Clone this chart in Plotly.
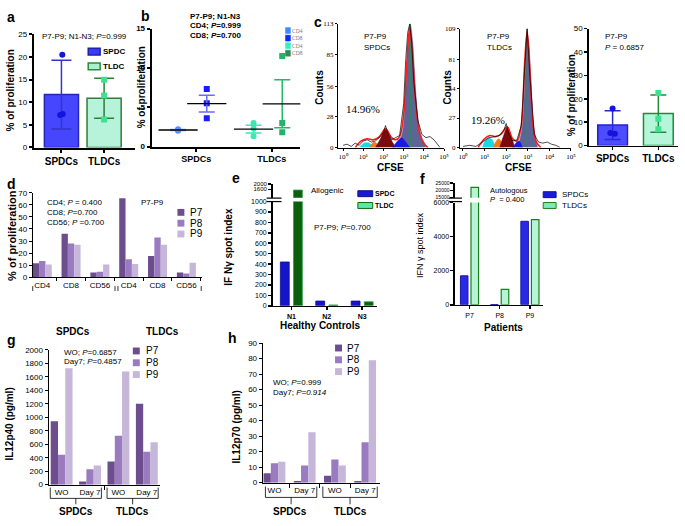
import numpy as np
import plotly.graph_objects as go

W, H = 685, 526
SANS = "Liberation Sans, Arial, Helvetica, sans-serif"
SERIF = "Liberation Serif, Times New Roman, serif"

# ---------------- data ----------------
# panel a
a_groups = ["SPDCs", "TLDCs"]
a_spdc_pts = [20.5, 7.2, 7.4]
a_tldc_pts = [15.0, 11.5, 6.2]
# panel b
b_groups = ["SPDCs", "TLDCs"]
b_spdc_cd4 = [2.1, 2.2, 2.0]
b_spdc_cd8 = [7.3, 5.5, 3.6]
b_tldc_cd4 = [3.0, 2.3, 1.3]
b_tldc_cd8 = [11.5, 3.0, 1.8]
# panel c (bar)
c_groups = ["SPDCs", "TLDCs"]
c_spdc_pts = [15.8, 5.4, 5.0]
c_tldc_pts = [22.5, 11.5, 7.0]
# panel c (CFSE histograms, x in log10 units)
cfse_tickvals = [0, 1, 2, 3, 4, 5]
cfse_ticktext = ["10\u2070", "10\u00b9", "10\u00b2", "10\u00b3", "10\u2074", "10\u2075"]
hist1_yticks = [0, 28, 56, 85, 113]
hist2_yticks = [0, 27, 54, 81, 109]
hist1_raw_x = [0.0, 0.2, 0.4, 0.6, 0.8, 1.0, 1.2, 1.4, 1.6, 1.8, 2.0, 2.1, 2.2, 2.4, 2.6, 2.8, 3.0, 3.1, 3.2, 3.3, 3.4, 3.5, 3.7, 3.9, 4.1, 4.3, 4.5, 4.7, 4.8]
hist1_raw_y = [2, 3, 1, 4, 2, 6, 7, 5, 6, 9, 14, 20, 14, 7, 9, 11, 40, 80, 105, 113, 95, 60, 25, 12, 9, 10, 7, 3, 0]
hist1_fit_x = [0.6, 0.9, 1.2, 1.5, 1.8, 2.1, 2.4, 2.6, 2.8, 3.0, 3.15, 3.3, 3.45, 3.6, 3.8, 4.0, 4.2]
hist1_fit_y = [0, 6, 8, 7, 10, 17, 9, 7, 10, 30, 75, 110, 80, 40, 12, 4, 0]
hist1_cyan_x = [0.8, 1.05, 1.3, 1.5]
hist1_cyan_y = [0, 4, 4, 0]
hist1_orange_x = [1.3, 1.55, 1.8]
hist1_orange_y = [0, 5, 0]
hist1_maroon_x = [1.6, 1.85, 2.1, 2.35, 2.6]
hist1_maroon_y = [0, 8, 17, 8, 0]
hist1_blue_x = [2.45, 2.7, 2.9, 3.1, 3.3]
hist1_blue_y = [0, 6, 9, 5, 0]
hist1_main_x = [2.7, 2.95, 3.1, 3.25, 3.33, 3.45, 3.6, 3.8, 4.1]
hist1_main_y = [0, 15, 50, 100, 112, 95, 50, 15, 0]
hist1_mode = 3.33
hist2_raw_x = [0.0, 0.3, 0.6, 0.9, 1.2, 1.5, 1.7, 1.9, 2.0, 2.1, 2.3, 2.5, 2.7, 2.85, 2.97, 3.1, 3.3, 3.5, 3.7, 3.9, 4.1, 4.3, 4.5]
hist2_raw_y = [1, 2, 1, 5, 9, 10, 11, 16, 22, 14, 6, 7, 20, 70, 109, 65, 12, 5, 4, 5, 3, 2, 0]
hist2_fit_x = [0.7, 1.0, 1.25, 1.5, 1.75, 2.05, 2.3, 2.5, 2.7, 2.85, 2.97, 3.1, 3.25, 3.4, 3.6]
hist2_fit_y = [0, 8, 11, 10, 12, 19, 8, 6, 20, 75, 106, 70, 20, 5, 0]
hist2_cyan_x = [0.9, 1.05, 1.2, 1.35, 1.5]
hist2_cyan_y = [0, 7, 9, 7, 0]
hist2_orange_x = [1.4, 1.65, 1.9]
hist2_orange_y = [0, 8, 0]
hist2_maroon_x = [1.7, 1.9, 2.05, 2.2, 2.4]
hist2_maroon_y = [0, 12, 19, 12, 0]
hist2_blue_x = [2.3, 2.5, 2.6, 2.75]
hist2_blue_y = [0, 5, 6, 0]
hist2_main_x = [2.55, 2.75, 2.88, 2.97, 3.05, 3.15, 3.3, 3.45]
hist2_main_y = [0, 20, 70, 105, 95, 60, 15, 0]
hist2_mode = 2.97
# panel d
d_cats = ["CD4", "CD8", "CD56", "CD4", "CD8", "CD56"]
d_p7 = [11.5, 36, 4, 65.5, 17.5, 4]
d_p8 = [13.5, 28, 4.5, 15, 33, 3]
d_p9 = [10.5, 27, 10.5, 11, 27, 12]
# panel e
e_cats = ["N1", "N2", "N3"]
e_spdc = [420, 45, 45]
e_tldc = [1550, 8, 38]
# panel f
f_cats = ["P7", "P8", "P9"]
f_spdc = [1700, 15, 4900]
f_tldc = [22000, 900, 5000]
# panel g
gh_cats = ["WO", "Day 7", "WO", "Day 7"]
gh_groups = ["SPDCs", "TLDCs"]
g_p7 = [940, 45, 345, 1200]
g_p8 = [445, 230, 725, 490]
g_p9 = [1730, 285, 1680, 630]
# panel h
h_p7 = [6, 1, 4.5, 1]
h_p8 = [12.5, 11, 15, 26]
h_p9 = [13.5, 32.5, 11, 79]

# ---------------- helpers ----------------
fig = go.Figure()
layout = dict(width=W, height=H, margin=dict(l=0, r=0, t=0, b=0),
              paper_bgcolor="white", plot_bgcolor="rgba(0,0,0,0)", showlegend=False,
              font=dict(family=SANS, color="black"), barmode="overlay", hovermode=False)
annotations = []
shapes = []


def ax(n):
    s = "" if n == 1 else str(n)
    return "x" + s, "y" + s


def add_axes(n, x0, x1, ytop, ybot, xr, yr, xkw=None, ykw=None, lw=1.5, fs=8, fam=SANS):
    s = "" if n == 1 else str(n)
    common = dict(showgrid=False, zeroline=False, showline=True, linecolor="black",
                  linewidth=lw, ticks="outside", ticklen=3, tickwidth=lw, tickcolor="black",
                  fixedrange=True, tickfont=dict(size=fs, family=fam, color="black"))
    xa = dict(common, domain=[x0 / W, x1 / W], range=xr, anchor="y" + s)
    ya = dict(common, domain=[1 - ybot / H, 1 - ytop / H], range=yr, anchor="x" + s)
    if xkw:
        xa.update(xkw)
    if ykw:
        ya.update(ykw)
    layout["xaxis" + s] = xa
    layout["yaxis" + s] = ya


def T(x, y, text, size=8, xa="left", ya="middle", angle=0, family=SANS, color="black"):
    annotations.append(dict(x=x / W, y=1 - y / H, xref="paper", yref="paper", text=text,
                            showarrow=False, xanchor=xa, yanchor=ya, textangle=angle,
                            font=dict(size=size, family=family, color=color), borderpad=0))


def TD(n, x, y, text, size=10):
    xr_, _ = ax(n)
    annotations.append(dict(x=x, y=1 - y / H, xref=xr_, yref="paper", text=text, showarrow=False,
                            xanchor="center", yanchor="middle", font=dict(size=size, family=SANS),
                            borderpad=0))


def RECT(x0, y0, x1, y1, fill, line, lw=1):
    shapes.append(dict(type="rect", xref="paper", yref="paper", x0=x0 / W, x1=x1 / W,
                       y0=1 - y1 / H, y1=1 - y0 / H, fillcolor=fill,
                       line=dict(color=line, width=lw)))


def LINE(x0, y0, x1, y1, color="black", lw=1):
    shapes.append(dict(type="line", xref="paper", yref="paper", x0=x0 / W, x1=x1 / W,
                       y0=1 - y0 / H, y1=1 - y1 / H, line=dict(color=color, width=lw)))


def BRACKET(n, xa_, xb_, ytop, ymid, ybot):
    xr_, _ = ax(n)
    yt, ym, yb = 1 - ytop / H, 1 - ymid / H, 1 - ybot / H
    xc = (xa_ + xb_) / 2
    shapes.append(dict(type="path", xref=xr_, yref="paper",
                       path=f"M {xa_},{yt} L {xa_},{ym} L {xb_},{ym} L {xb_},{yt} M {xc},{ym} L {xc},{yb}",
                       line=dict(color="black", width=0.8)))


def errbars(n, xs, means, errs, color, width, thick=1.5):
    xr_, yr_ = ax(n)
    fig.add_trace(go.Scatter(x=xs, y=means, mode="markers", xaxis=xr_, yaxis=yr_,
                             marker=dict(size=1, color="rgba(0,0,0,0)"),
                             error_y=dict(type="data", array=errs, color=color,
                                          thickness=thick, width=width)))


# ---------------- panel a ----------------
add_axes(1, 33, 135, 31, 146, [-0.65, 1.72], [0, 25],
         xkw=dict(tickvals=[0, 1], ticktext=[f"<b>{g}</b>" for g in a_groups],
                  tickfont=dict(size=10, family=SANS)),
         ykw=dict(tickvals=[0, 5, 10, 15, 20, 25]), lw=2)
a_means = [np.mean(a_spdc_pts), np.mean(a_tldc_pts)]
a_sd = [np.std(a_spdc_pts, ddof=1), np.std(a_tldc_pts, ddof=1)]
fig.add_trace(go.Bar(x=[0, 1], y=a_means, width=0.8, xaxis="x", yaxis="y",
                     marker=dict(color=["#4646ff", "#b6f3da"],
                                 line=dict(color=["#2626b8", "#2f7f35"], width=1.5))))
errbars(1, [0], [a_means[0]], [a_sd[0]], "#3535c8", 10)
errbars(1, [1], [a_means[1]], [a_sd[1]], "#2f7f35", 10)
fig.add_trace(go.Scatter(x=[0.02, -0.03, 0.03], y=a_spdc_pts, mode="markers", xaxis="x", yaxis="y",
                         marker=dict(size=6, color="#1414e0")))
fig.add_trace(go.Scatter(x=[1.0, 1.0, 1.0], y=a_tldc_pts, mode="markers", xaxis="x", yaxis="y",
                         marker=dict(size=6, symbol="square", color="#3fe08f")))
T(10, 88, "<b>% of proliferation</b>", 10, "center", angle=-90)
T(40, 33, "P7-P9; N1-N3; <i>P</i>=0.999", 8)
RECT(88, 45, 100, 52, "#3a3aff", "#2020aa", 1.5)
T(102, 48.5, "<b>SPDC</b>", 8)
RECT(88, 60, 100, 67, "#a8f0d0", "#2a8a3a", 1.5)
T(102, 63.5, "<b>TLDC</b>", 8)
T(5, 13, "<b>a</b>", 14)

# ---------------- panel b ----------------
add_axes(2, 152, 302, 25, 145, [-0.59, 1.38], [0, 15],
         xkw=dict(tickvals=[0, 1], ticktext=[f"<b>{g}</b>" for g in b_groups],
                  tickfont=dict(size=9, family=SANS)),
         ykw=dict(tickvals=[0, 5, 10, 15], ticktext=["<b>0</b>", "<b>5</b>", "<b>10</b>", "<b>15</b>"]), lw=2)
b_off4, b_off8 = -0.24, 0.14
b_sets = [(0 + b_off4, b_spdc_cd4, "#5a8cff", "#6f9cff", "circle"),
          (0 + b_off8, b_spdc_cd8, "#1a1aff", "#6a6aff", "square"),
          (1 + b_off4, b_tldc_cd4, "#3ae8b4", "#3ae8b4", "circle"),
          (1 + b_off8, b_tldc_cd8, "#1fb46a", "#22b86e", "square")]
for xpos, vals, col, ecol, sym in b_sets:
    m = float(np.mean(vals))
    sem = float(np.std(vals, ddof=1) / np.sqrt(len(vals)))
    fig.add_trace(go.Scatter(x=[xpos] * len(vals), y=vals, mode="markers", xaxis="x2", yaxis="y2",
                             marker=dict(size=6, color=col, symbol=sym)))
    errbars(2, [xpos], [m], [sem], ecol, 8)
    fig.add_trace(go.Scatter(x=[xpos], y=[m], mode="markers", xaxis="x2", yaxis="y2",
                             marker=dict(symbol="line-ew", size=28, line=dict(color="black", width=1.3))))
T(142, 85, "<b>% of proliferation</b>", 10, "center", angle=-90)
T(190, 13, "<b>P7-P9; N1-N3</b>", 8)
T(190, 22, "<b>CD4; <i>P</i>=0.999</b>", 8)
T(190, 32, "<b>CD8; <i>P</i>=0.700</b>", 8)
for i, (lab, col) in enumerate([("CD4", "#3d8bff"), ("CD8", "#0a2aff"), ("CD4", "#33f0c0"), ("CD8", "#2e8b57")]):
    yy = 27 + i * 7.7
    RECT(287, yy - 3, 292, yy + 3, col, col, 0.5)
    T(293, yy, lab, 5.5, family=SERIF, color="#777777")
T(140, 12, "<b>b</b>", 14)

# ---------------- panel c histograms ----------------
for n, x0, x1, ytop, xr, yticks, rx, ry, fx, fy, peaks, mode, ylab_x in [
    (3, 340, 447, 20, [-0.25, 5], hist1_yticks, hist1_raw_x, hist1_raw_y, hist1_fit_x, hist1_fit_y,
     [(hist1_main_x, hist1_main_y, "#5d6598"), (hist1_cyan_x, hist1_cyan_y, "#1fd6e6"),
      (hist1_orange_x, hist1_orange_y, "#f07d1a"), (hist1_maroon_x, hist1_maroon_y, "#7d0a0a"),
      (hist1_blue_x, hist1_blue_y, "#1a1ae6")], hist1_mode, 321),
    (4, 463, 575, 25, [-0.14, 5], hist2_yticks, hist2_raw_x, hist2_raw_y, hist2_fit_x, hist2_fit_y,
     [(hist2_main_x, hist2_main_y, "#5d6598"), (hist2_cyan_x, hist2_cyan_y, "#1fd6e6"),
      (hist2_orange_x, hist2_orange_y, "#f07d1a"), (hist2_maroon_x, hist2_maroon_y, "#7d0a0a"),
      (hist2_blue_x, hist2_blue_y, "#1a1ae6")], hist2_mode, 450)]:
    add_axes(n, x0, x1, ytop, 146, xr, [0, yticks[-1]],
             xkw=dict(tickvals=cfse_tickvals, ticktext=cfse_ticktext, ticklen=2),
             ykw=dict(tickvals=yticks, ticklen=2), lw=1, fs=7, fam=SERIF)
    xr_, yr_ = ax(n)
    for px_, py_, col in peaks:
        fig.add_trace(go.Scatter(x=px_, y=py_, mode="lines", fill="toself", fillcolor=col,
                                 line=dict(color=col, width=0.5, shape="spline"), xaxis=xr_, yaxis=yr_))
    fig.add_trace(go.Scatter(x=[mode, mode], y=[0, yticks[-1]], mode="lines", xaxis=xr_, yaxis=yr_,
                             line=dict(color="#2e8b57", width=1)))
    fig.add_trace(go.Scatter(x=fx, y=fy, mode="lines", xaxis=xr_, yaxis=yr_,
                             line=dict(color="#ff1a1a", width=1.6, shape="spline")))
    fig.add_trace(go.Scatter(x=rx, y=ry, mode="lines", xaxis=xr_, yaxis=yr_,
                             line=dict(color="black", width=0.7)))
    T(ylab_x, 85, "<b>Counts</b>", 10, "center", angle=-90)
T(365, 33, "P7-P9", 8)
T(365, 44, "SPDCs", 8)
T(347, 107, "14.96%", 11, family=SERIF)
T(393, 166, "<b>CFSE</b>", 10, "center")
T(489, 33, "P7-P9", 8)
T(489, 44, "TLDCs", 8)
T(473, 118, "19.26%", 11, family=SERIF)
T(522, 166, "<b>CFSE</b>", 10, "center")
T(315, 18, "<b>c</b>", 14)

# ---------------- panel c bar ----------------
add_axes(5, 593, 683, 25, 144, [-0.52, 1.43], [0, 50],
         xkw=dict(tickvals=[0, 1], ticktext=[f"<b>{g}</b>" for g in c_groups],
                  tickfont=dict(size=10, family=SANS)),
         ykw=dict(tickvals=[0, 10, 20, 30, 40, 50]), lw=1.5)
c_means = [np.mean(c_spdc_pts), np.mean(c_tldc_pts)]
c_sd = [np.std(c_spdc_pts, ddof=1), np.std(c_tldc_pts, ddof=1)]
fig.add_trace(go.Bar(x=[0, 1], y=c_means, width=0.65, xaxis="x5", yaxis="y5",
                     marker=dict(color=["#4d4dff", "#b5f5da"],
                                 line=dict(color=["#2222cc", "#1e8c3a"], width=1.5))))
errbars(5, [0], [c_means[0]], [c_sd[0]], "#2a2ad0", 8)
errbars(5, [1], [c_means[1]], [c_sd[1]], "#1e8c3a", 8)
fig.add_trace(go.Scatter(x=[0.0, -0.05, 0.05], y=c_spdc_pts, mode="markers", xaxis="x5", yaxis="y5",
                         marker=dict(size=6, color="#1414e0")))
fig.add_trace(go.Scatter(x=[1.0, 1.0, 1.0], y=c_tldc_pts, mode="markers", xaxis="x5", yaxis="y5",
                         marker=dict(size=6, symbol="square", color="#3fe08f")))
T(575, 93, "<b>% of proliferation</b>", 10, "center", angle=-90)
T(608, 33, "P7-P9", 8)
T(608, 44, "<i>P</i> = 0.6857", 8)

# ---------------- panel d ----------------
P7C, P8C, P9C = "#6c4e8e", "#9a7bbf", "#c5b6da"
add_axes(6, 32, 203, 192, 278, [-0.33, 5.55], [0, 70],
         xkw=dict(tickvals=list(range(6)), ticktext=d_cats, ticklen=0,
                  minor=dict(tickvals=[i + 0.5 for i in range(6)], ticks="outside", ticklen=3,
                             tickcolor="black", tickwidth=1)),
         ykw=dict(tickvals=list(range(0, 71, 10))), lw=1, fs=8)
for vals, col, off in [(d_p7, P7C, -0.33), (d_p8, P8C, -0.11), (d_p9, P9C, 0.11)]:
    fig.add_trace(go.Bar(x=list(range(6)), y=vals, width=0.22, offset=off, xaxis="x6", yaxis="y6",
                         marker=dict(color=col, line=dict(width=0))))
T(11, 235, "<b>% of proliferation</b>", 11, "center", angle=-90)
T(45, 202, "CD4; <i>P</i> = 0.400", 8)
T(45, 212, "CD8; <i>P</i>=0.700", 8)
T(45, 222, "CD56; <i>P</i> =0.700", 8)
T(140, 202, "P7-P9", 8)
for i, (lab, col) in enumerate([("P7", P7C), ("P8", P8C), ("P9", P9C)]):
    yy = 212 + i * 11
    RECT(178, yy - 3.5, 185, yy + 3.5, col, col, 0)
    T(190, yy, lab, 10)
for xx in [32, 115, 118, 202]:
    LINE(xx, 287, xx, 292, lw=0.8)
T(73, 333, "<b>SPDCs</b>", 10, "center")
T(163, 333, "<b>TLDCs</b>", 10, "center")
T(5, 183, "<b>d</b>", 14)

# ---------------- panel e ----------------
E_SP, E_TL, E_TLL = "#1515c8", "#0b5e0b", "#2e9e4e"
e_xr = [-0.53, 2.41]
add_axes(7, 274, 379, 201, 307, e_xr, [0, 1000],
         xkw=dict(tickvals=[0, 1, 2], ticktext=[f"<b>{c}</b>" for c in e_cats], tickfont=dict(size=7, family=SANS)),
         ykw=dict(tickvals=list(range(0, 1001, 100))), lw=1.5, fs=7)
add_axes(8, 274, 379, 183, 197, e_xr, [1000, 2000],
         xkw=dict(visible=False), ykw=dict(tickvals=[1600, 2000]), lw=1.5, fs=6)
for n in (7, 8):
    xr_, yr_ = ax(n)
    fig.add_trace(go.Bar(x=[0, 1, 2], y=e_spdc, width=0.25, offset=-0.31, xaxis=xr_, yaxis=yr_,
                         marker=dict(color=E_SP, line=dict(color="#0d0d99", width=0.8))))
    fig.add_trace(go.Bar(x=[0, 1, 2], y=e_tldc, width=0.25, offset=0.06, xaxis=xr_, yaxis=yr_,
                         marker=dict(color=E_TL, line=dict(color=E_TLL, width=0.8))))
LINE(268, 197.5, 283, 197.5, lw=1.2)
LINE(268, 201, 283, 201, lw=1.2)
T(230, 247, "<b>IF N\u03b3 spot index</b>", 10, "center", angle=-90)
T(312, 190, "Allogenic", 8)
T(315, 227, "P7-P9; <i>P</i>=0.700", 8)
RECT(360, 190, 375, 196, "#1a1ad6", "#10108a", 1)
T(376, 193, "<b>SPDC</b>", 7)
RECT(360, 202, 375, 208, "#5ee8a8", "#0d6e0d", 1)
T(376, 205, "<b>TLDC</b>", 7)
T(322, 327, "<b>Healthy Controls</b>", 10, "center")
T(232, 177, "<b>e</b>", 14)

# ---------------- panel f ----------------
F_SP, F_SPL, F_TL, F_TLL = "#2a2ae6", "#1a1aa0", "#b5f5d5", "#1e7e1e"
f_xr = [-0.48, 2.44]
add_axes(9, 458, 547, 202, 306, f_xr, [0, 6000],
         xkw=dict(tickvals=[0, 1, 2], ticktext=f_cats, tickfont=dict(size=7, family=SANS)),
         ykw=dict(tickvals=[0, 2000, 4000, 6000], ticktext=["0", "2000", "4000", "6000"]), lw=1.5, fs=7)
add_axes(10, 458, 547, 182, 197, f_xr, [15000, 25000],
         xkw=dict(visible=False),
         ykw=dict(tickvals=[15000, 20000, 25000], ticktext=["15000", "20000", "25000"]), lw=1.5, fs=5)
for n in (9, 10):
    xr_, yr_ = ax(n)
    fig.add_trace(go.Bar(x=[0, 1, 2], y=f_spdc, width=0.25, offset=-0.3, xaxis=xr_, yaxis=yr_,
                         marker=dict(color=F_SP, line=dict(color=F_SPL, width=1))))
    fig.add_trace(go.Bar(x=[0, 1, 2], y=f_tldc, width=0.25, offset=0.05, xaxis=xr_, yaxis=yr_,
                         marker=dict(color=F_TL, line=dict(color=F_TLL, width=1.2))))
LINE(452, 197.5, 465, 197.5, lw=1.2)
LINE(452, 201, 465, 201, lw=1.2)
T(423, 245, "IFN \u03b3 spot index", 9, "center", angle=-90)
T(492, 190, "Autologous", 7.5)
T(492, 199, "<i>P</i>  = 0.400", 7.5)
RECT(547, 191, 560, 197, "#1a1ae0", "#10108a", 1)
T(565, 194, "SPDCs", 8)
RECT(547, 202, 560, 208, "#7debb8", "#1e7e1e", 1)
T(565, 205, "TLDCs", 8)
T(507, 329, "<b>Patients</b>", 10, "center")
T(422, 178, "<b>f</b>", 14)

# ---------------- panel g ----------------
add_axes(11, 48, 160, 352, 489, [-0.46, 3.45], [0, 2000],
         xkw=dict(tickvals=[0, 1, 2, 3], ticktext=gh_cats, ticklen=0,
                  minor=dict(tickvals=[1.5], ticks="outside", ticklen=4, tickcolor="black", tickwidth=1)),
         ykw=dict(tickvals=list(range(0, 2001, 200))), lw=1, fs=8)
for vals, col, off in [(g_p7, P7C, -0.385), (g_p8, P8C, -0.128), (g_p9, P9C, 0.128)]:
    fig.add_trace(go.Bar(x=[0, 1, 2, 3], y=vals, width=0.257, offset=off, xaxis="x11", yaxis="y11",
                         marker=dict(color=col, line=dict(width=0))))
BRACKET(11, -0.4, 1.4, 492, 503, 509)
BRACKET(11, 1.6, 3.4, 492, 503, 509)
TD(11, 0.5, 516, "<b>%s</b>" % gh_groups[0], 10)
TD(11, 2.5, 516, "<b>%s</b>" % gh_groups[1], 10)
T(9, 427, "<b>IL12p40 (pg/ml)</b>", 10, "center", angle=-90)
T(63, 355, "WO; <i>P</i>=0.6857", 8)
T(63, 364, "Day7; <i>P</i>=0.4857", 8)
for i, (lab, col) in enumerate([("P7", P7C), ("P8", P8C), ("P9", P9C)]):
    yy = 353 + i * 12
    RECT(133, yy - 3.5, 140, yy + 3.5, col, col, 0)
    T(145, yy, lab, 10)
T(5, 342, "<b>g</b>", 14)

# ---------------- panel h ----------------
add_axes(12, 264, 382, 345, 487, [-0.39, 3.48], [0, 90],
         xkw=dict(tickvals=[0, 1, 2, 3], ticktext=gh_cats, ticklen=0,
                  minor=dict(tickvals=[0.5, 1.5, 2.5], ticks="outside", ticklen=4, tickcolor="black", tickwidth=1)),
         ykw=dict(tickvals=list(range(0, 91, 10))), lw=1, fs=8)
for vals, col, off in [(h_p7, P7C, -0.36), (h_p8, P8C, -0.12), (h_p9, P9C, 0.12)]:
    fig.add_trace(go.Bar(x=[0, 1, 2, 3], y=vals, width=0.24, offset=off, xaxis="x12", yaxis="y12",
                         marker=dict(color=col, line=dict(width=0))))
BRACKET(12, -0.3, 1.4, 491, 502, 509)
BRACKET(12, 1.6, 3.4, 491, 502, 509)
TD(12, 0.5, 516, "<b>%s</b>" % gh_groups[0], 10)
TD(12, 2.5, 516, "<b>%s</b>" % gh_groups[1], 10)
T(238, 430, "<b>IL12p70 (pg/ml)</b>", 10, "center", angle=-90)
T(273, 385, "WO; <i>P</i>=0.999", 8)
T(273, 395, "Day7; <i>P=0.914</i>", 8)
for i, (lab, col) in enumerate([("P7", P7C), ("P8", P8C), ("P9", P9C)]):
    yy = 350 + i * 12
    RECT(337, yy - 3.5, 344, yy + 3.5, col, col, 0)
    T(348, yy, lab, 10)
T(228, 340, "<b>h</b>", 14)

layout["annotations"] = annotations
layout["shapes"] = shapes
fig.update_layout(**layout)
fig.write_html("out.html", config={"displayModeBar": False, "staticPlot": True},
               post_script="document.body.style.margin='0px';document.body.style.padding='0px';")
